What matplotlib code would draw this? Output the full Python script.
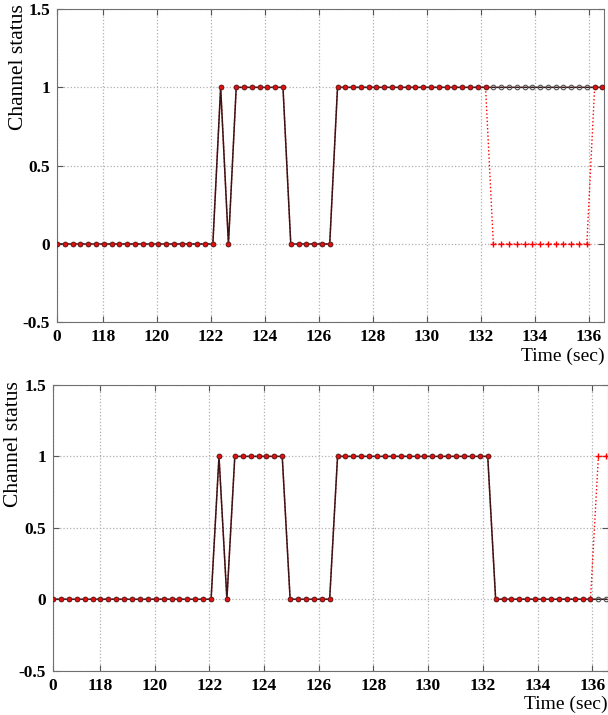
import numpy as np
import matplotlib
matplotlib.use("Agg")
import matplotlib.pyplot as plt

# sample times (s): first sample at left edge, 0.2889 s apart
t_start = 116.29
t_step = 0.2889
n_samples = 71

# channel status per sample (1 = busy, 0 = idle)
top_actual = [0, 0, 0, 0, 0, 0, 0, 0, 0, 0, 0, 0, 0, 0, 0, 0, 0, 0, 0, 0, 0,
              1, 0, 1, 1, 1, 1, 1, 1, 1, 0, 0, 0, 0, 0, 0,
              1, 1, 1, 1, 1, 1, 1, 1, 1, 1, 1, 1, 1, 1, 1, 1, 1, 1, 1, 1,
              1, 1, 1, 1, 1, 1, 1, 1, 1, 1, 1, 1, 1, 1, 1]
top_sensed = [0, 0, 0, 0, 0, 0, 0, 0, 0, 0, 0, 0, 0, 0, 0, 0, 0, 0, 0, 0, 0,
              1, 0, 1, 1, 1, 1, 1, 1, 1, 0, 0, 0, 0, 0, 0,
              1, 1, 1, 1, 1, 1, 1, 1, 1, 1, 1, 1, 1, 1, 1, 1, 1, 1, 1, 1,
              0, 0, 0, 0, 0, 0, 0, 0, 0, 0, 0, 0, 0, 1, 1]
bot_actual = [0, 0, 0, 0, 0, 0, 0, 0, 0, 0, 0, 0, 0, 0, 0, 0, 0, 0, 0, 0, 0,
              1, 0, 1, 1, 1, 1, 1, 1, 1, 0, 0, 0, 0, 0, 0,
              1, 1, 1, 1, 1, 1, 1, 1, 1, 1, 1, 1, 1, 1, 1, 1, 1, 1, 1, 1,
              0, 0, 0, 0, 0, 0, 0, 0, 0, 0, 0, 0, 0, 0, 0]
bot_sensed = [0, 0, 0, 0, 0, 0, 0, 0, 0, 0, 0, 0, 0, 0, 0, 0, 0, 0, 0, 0, 0,
              1, 0, 1, 1, 1, 1, 1, 1, 1, 0, 0, 0, 0, 0, 0,
              1, 1, 1, 1, 1, 1, 1, 1, 1, 1, 1, 1, 1, 1, 1, 1, 1, 1, 1, 1,
              0, 0, 0, 0, 0, 0, 0, 0, 0, 0, 0, 0, 0, 1, 1]

xtick_pos = [116.29, 118, 120, 122, 124, 126, 128, 130, 132, 134, 136]
xtick_labels = ["0", "118", "120", "122", "124", "126", "128", "130", "132", "134", "136"]
ytick_pos = [-0.5, 0, 0.5, 1, 1.5]
ytick_labels = ["-0.5", "0", "0.5", "1", "1.5"]

t = t_start + np.arange(n_samples) * t_step

plt.rcParams["font.family"] = ["Liberation Serif", "DejaVu Serif"]

fig = plt.figure(figsize=(6.08, 7.15), dpi=100)
ax_top = fig.add_axes([0.0938, 0.5492, 0.900, 0.4382])
ax_bot = fig.add_axes([0.0872, 0.0620, 0.913, 0.3996])


def draw(ax, actual, sensed, lab_y):
    actual = np.array(actual)
    sensed = np.array(sensed)
    same = actual == sensed
    ax.plot(t, sensed, color="red", ls=":", lw=1.0, zorder=2)
    ax.plot(t, actual, color="#3a1515", ls="-", lw=1.1, marker="o",
            ms=3.3, mfc="none", mec="#555555", mew=0.8, zorder=3)
    ax.plot(t[same], sensed[same], ls="none", marker="o", ms=3.3,
            mfc="#e01010", mec="#701010", mew=0.5, zorder=4)
    ax.plot(t[~same], sensed[~same], ls="none", marker="+", ms=4.5,
            color="red", mew=1.0, zorder=4)

    ax.set_xlim(116.29, 136.58)
    ax.set_ylim(-0.5, 1.5)
    ax.set_xticks(xtick_pos)
    ax.set_xticklabels(xtick_labels, fontweight="bold", fontsize=12.5)
    ax.set_yticks(ytick_pos)
    ax.set_yticklabels(ytick_labels, fontweight="bold", fontsize=12.5)
    ax.tick_params(direction="in", length=4, top=True, right=True,
                   color="#555555", pad=5)
    ax.grid(True, ls=":", color="#b0b0b0", lw=0.9)
    for s in ax.spines.values():
        s.set_color("#707070")
    ax.text(-0.071, 1.015, "Channel status", rotation=90, ha="center",
            va="top", fontsize=15.5, transform=ax.transAxes)
    ax.text(1.0, lab_y, "Time (sec)", ha="right", va="top", fontsize=14,
            transform=ax.transAxes, clip_on=False)


draw(ax_top, top_actual, top_sensed, -0.082)
draw(ax_bot, bot_actual, bot_sensed, -0.088)

fig.savefig("out.png", dpi=100)
